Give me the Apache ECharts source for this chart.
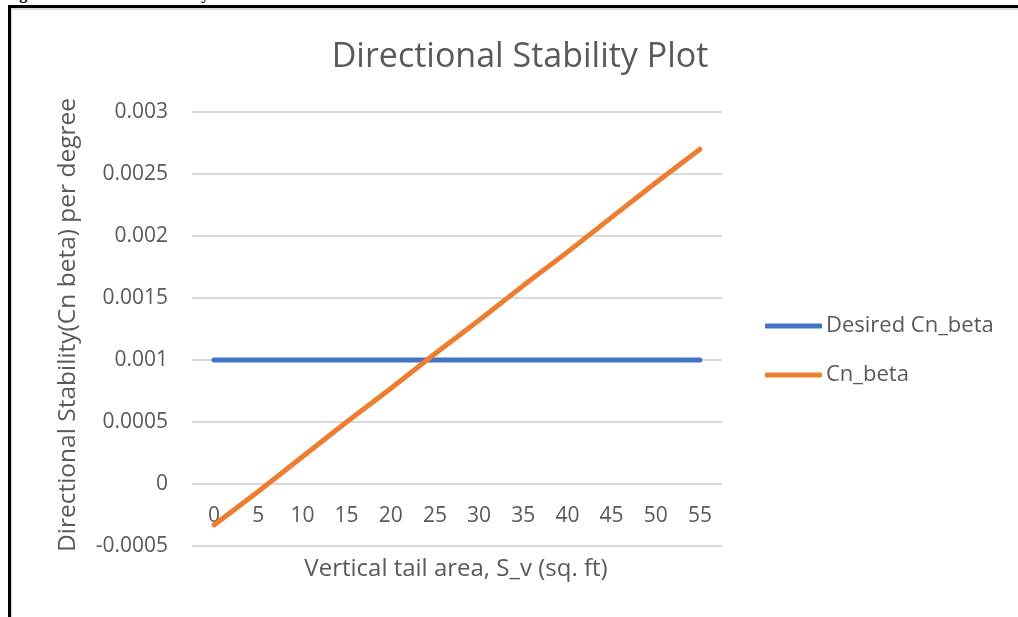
<!DOCTYPE html>
<html>
<head>
<meta charset="utf-8">
<script src="https://cdn.jsdelivr.net/npm/echarts@6/dist/echarts.min.js"></script>
<style>
  html, body { margin: 0; padding: 0; background: #fff; overflow: hidden; }
  #page { position: relative; width: 1018px; height: 617px; overflow: hidden; }
  #caption { position: absolute; left: 5px; top: -15px; font: bold 16px/18px "Liberation Serif", serif; color: #000; white-space: nowrap; }
  #frameTop { position: absolute; left: 8px; top: 5px; width: 1010px; height: 3px; background: #000; }
  #frameLeft { position: absolute; left: 8px; top: 5px; width: 3px; height: 612px; background: #000; }
  #chart { position: absolute; left: 0; top: 0; width: 1018px; height: 617px; }
  #chartBorder { position: absolute; left: 11px; top: 8px; width: 1007px; height: 609px; border-top: 2px solid #d9d9d9; border-left: 1px solid #d9d9d9; box-sizing: border-box; pointer-events: none; }
</style>
</head>
<body>
<div id="page">
  <div id="caption">Figure 9: Directional Stability</div>
  <div id="chart"></div>
  <div id="chartBorder"></div>
  <div id="frameTop"></div>
  <div id="frameLeft"></div>
</div>
<script>
// Vertical tail area, S_v (sq. ft)
const tailArea = ['0', '5', '10', '15', '20', '25', '30', '35', '40', '45', '50', '55'];
// Target directional stability, per degree
const desiredCnBeta = [0.001, 0.001, 0.001, 0.001, 0.001, 0.001, 0.001, 0.001, 0.001, 0.001, 0.001, 0.001];
// Computed directional stability, per degree
const cnBeta = [-0.00033, -0.00006, 0.00022, 0.00050, 0.00077, 0.00105, 0.00132, 0.00160, 0.00187, 0.00215, 0.00243, 0.00270];
// Y axis range and step
const yMin = -0.0005, yMax = 0.003, yStep = 0.0005;

const FONT = '"Open Sans", sans-serif';
const GREY = '#595959';
const GRID_GREY = '#d9d9d9';

const GRID_TOP = 112, GRID_BOTTOM = 71, GRID_H = 617 - GRID_TOP - GRID_BOTTOM;
// the category axis sits where the value axis crosses zero
const zeroOffset = -GRID_H * (0 - yMin) / (yMax - yMin);

const chart = echarts.init(document.getElementById('chart'), null, { renderer: 'canvas' });
chart.setOption({
  animation: false,
  backgroundColor: 'transparent',
  textStyle: { fontFamily: FONT },
  grid: { left: 192, right: 296, top: GRID_TOP, bottom: GRID_BOTTOM, containLabel: false },
  legend: {
    orient: 'vertical', left: 765, top: 315, padding: 0, itemGap: 27,
    itemWidth: 57, itemHeight: 5, icon: 'roundRect',
    textStyle: { fontFamily: FONT, fontSize: 22, color: GREY, padding: [0, 0, 0, -1] },
    data: ['Desired Cn_beta', 'Cn_beta']
  },
  xAxis: {
    type: 'category', data: tailArea, boundaryGap: true,
    position: 'bottom', offset: zeroOffset,
    axisLine: { show: false, onZero: false },
    axisTick: { show: false },
    axisLabel: { color: GREY, fontFamily: FONT, fontSize: 21, margin: 22, interval: 0 },
    splitLine: { show: false }
  },
  yAxis: {
    type: 'value', min: yMin, max: yMax, interval: yStep,
    axisLine: { show: false }, axisTick: { show: false },
    axisLabel: {
      color: GREY, fontFamily: FONT, fontSize: 21, margin: 24,
      formatter: v => String(parseFloat(v.toFixed(4)))
    },
    splitLine: { lineStyle: { color: GRID_GREY, width: 2 } }
  },
  graphic: [
    {
      type: 'text', x: 520, y: 57,
      style: { text: 'Directional Stability Plot', fill: GREY, font: '34px ' + FONT, align: 'center', verticalAlign: 'middle' }
    },
    {
      type: 'text', x: 456, y: 569,
      style: { text: 'Vertical tail area, S_v (sq. ft)', fill: GREY, font: '24px ' + FONT, align: 'center', verticalAlign: 'middle' }
    },
    {
      type: 'text', x: 68, y: 325, rotation: Math.PI / 2,
      style: { text: 'Directional Stability(Cn beta) per degree', fill: GREY, font: '24.5px ' + FONT, align: 'center', verticalAlign: 'middle' }
    }
  ],
  series: [
    {
      name: 'Desired Cn_beta', type: 'line', data: desiredCnBeta,
      symbol: 'none', color: '#4472C4',
      lineStyle: { width: 5, cap: 'round', color: '#4472C4' }
    },
    {
      name: 'Cn_beta', type: 'line', data: cnBeta,
      symbol: 'none', color: '#ED7D31',
      lineStyle: { width: 5, cap: 'round', color: '#ED7D31' }
    }
  ]
});
</script>
</body>
</html>
